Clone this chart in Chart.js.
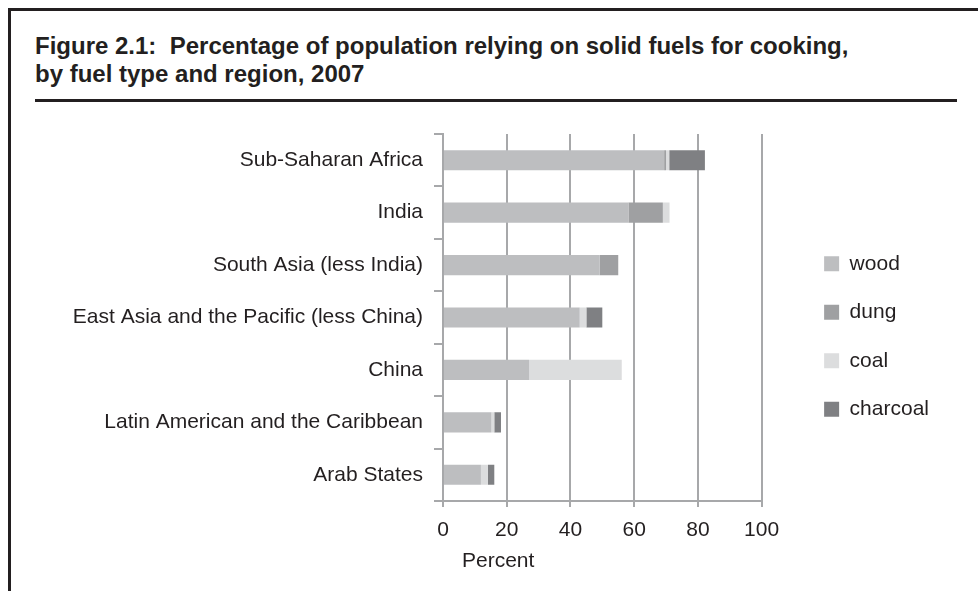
<!DOCTYPE html>
<html lang="en">
<head>
    <meta charset="UTF-8">
    <title>Figure 2.1</title>
    <script src="https://cdn.jsdelivr.net/npm/chart.js"></script>
    <style>
        body { margin: 0; background: #fff; font-family: "Liberation Sans", Arial, sans-serif; color: #231f20; }
        .wrap { position: relative; width: 978px; height: 591px; overflow: hidden; }
        .frame-top { position: absolute; left: 8px; top: 8px; width: 970px; height: 3px; background: #231f20; }
        .frame-left { position: absolute; left: 8px; top: 8px; width: 3px; height: 583px; background: #231f20; }
        .title { position: absolute; left: 35px; top: 32px; font-size: 24px; font-weight: bold; line-height: 28px; white-space: pre; }
        .rule { position: absolute; left: 35px; top: 99px; width: 922px; height: 3px; background: #231f20; }
        canvas { position: absolute; left: 0; top: 0; }
    </style>
</head>
<body>
    <div class="wrap">
        <div class="frame-top"></div>
        <div class="frame-left"></div>
        <div class="title">Figure 2.1:  Percentage of population relying on solid fuels for cooking,
by fuel type and region, 2007</div>
        <div class="rule"></div>
        <canvas id="fuelChart" width="978" height="591"></canvas>
    </div>

    <script>
        const regions = [
            'Sub-Saharan Africa',
            'India',
            'South Asia (less India)',
            'East Asia and the Pacific (less China)',
            'China',
            'Latin American and the Caribbean',
            'Arab States'
        ];
        const wood     = [69.4, 58.2, 49.2, 42.9, 27.0, 15.2, 11.9];
        const dung     = [0.6, 10.8, 5.8, 0, 0, 0, 0];
        const coal     = [1.0, 2.1, 0, 2.1, 29.1, 0.9, 2.2];
        const charcoal = [11.2, 0, 0, 5.0, 0, 2.1, 2.0];
        const xTicks   = [0, 20, 40, 60, 80, 100];

        const FONT = "'Liberation Sans', Arial, sans-serif";
        const TEXT = '#231f20';
        const GRID = '#a7a8aa';

        // axis title sits left of centre in the original
        const percentLabel = {
            id: 'percentLabel',
            afterDraw(chart) {
                const ctx = chart.ctx;
                const area = chart.chartArea;
                ctx.save();
                ctx.font = '21px ' + FONT;
                ctx.fillStyle = TEXT;
                ctx.textAlign = 'left';
                ctx.textBaseline = 'middle';
                ctx.fillText('Percent', area.left + 19, area.bottom + 60);
                ctx.restore();
            }
        };

        // move the legend a bit right and up from where Chart.js puts it
        const legendShift = {
            id: 'legendShift',
            afterLayout(chart) {
                chart.legend.left += 35;
                chart.legend.right += 35;
                chart.legend.top -= 11;
                chart.legend.bottom -= 11;
            }
        };

        const ctx = document.getElementById('fuelChart').getContext('2d');
        new Chart(ctx, {
            type: 'bar',
            data: {
                labels: regions,
                datasets: [
                    { label: 'wood', data: wood, backgroundColor: '#bdbec0' },
                    { label: 'dung', data: dung, backgroundColor: '#9fa0a2' },
                    { label: 'coal', data: coal, backgroundColor: '#dcddde' },
                    { label: 'charcoal', data: charcoal, backgroundColor: '#7f8083' }
                ]
            },
            options: {
                indexAxis: 'y',
                responsive: false,
                animation: false,
                devicePixelRatio: 1,
                categoryPercentage: 0.4,
                barPercentage: 0.96,
                layout: { padding: { left: 68, top: 134, right: 74, bottom: 30 } },
                plugins: {
                    tooltip: { enabled: false },
                    legend: {
                        position: 'right',
                        labels: {
                            color: TEXT,
                            font: { family: FONT, size: 21 },
                            boxWidth: 15,
                            boxHeight: 15,
                            padding: 27.5
                        }
                    }
                },
                scales: {
                    x: {
                        stacked: true,
                        min: 0,
                        max: 100,
                        afterFit(scale) { scale.height = 60; },
                        afterBuildTicks(scale) { scale.ticks = xTicks.map(v => ({ value: v })); },
                        ticks: { color: TEXT, font: { family: FONT, size: 21 }, padding: 11 },
                        grid: { color: GRID, lineWidth: 2, tickLength: 6 },
                        border: { color: GRID, width: 2 }
                    },
                    y: {
                        stacked: true,
                        afterFit(scale) { scale.width = 375; },
                        ticks: { color: TEXT, font: { family: FONT, size: 21 }, padding: 11 },
                        grid: { color: GRID, lineWidth: 2, drawOnChartArea: false, tickLength: 9 },
                        border: { color: GRID, width: 2 }
                    }
                }
            },
            plugins: [percentLabel, legendShift]
        });
    </script>
</body>
</html>
